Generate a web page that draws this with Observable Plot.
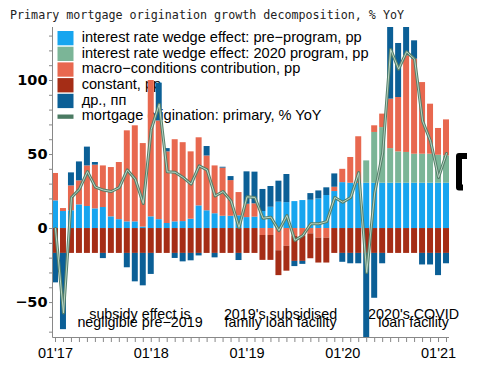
<!DOCTYPE html>
<html>
<head>
<meta charset="utf-8">
<script src="https://cdn.jsdelivr.net/npm/d3@7"></script>
<script src="https://cdn.jsdelivr.net/npm/@observablehq/plot@0.6"></script>
<style>
  body { margin: 0; background: #fff; }
</style>
</head>
<body>
<script>
// ---------- data ----------
const titleText = "Primary mortgage origination growth decomposition, % YoY";

const months = [
  "2017-01","2017-02","2017-03","2017-04","2017-05","2017-06","2017-07","2017-08","2017-09","2017-10","2017-11","2017-12",
  "2018-01","2018-02","2018-03","2018-04","2018-05","2018-06","2018-07","2018-08","2018-09","2018-10","2018-11","2018-12",
  "2019-01","2019-02","2019-03","2019-04","2019-05","2019-06","2019-07","2019-08","2019-09","2019-10","2019-11","2019-12",
  "2020-01","2020-02","2020-03","2020-04","2020-05","2020-06","2020-07","2020-08","2020-09","2020-10","2020-11","2020-12",
  "2021-01","2021-02"
];

const seriesNames = [
  "interest rate wedge effect: pre\u2212program, pp",
  "interest rate wedge effect: 2020 program, pp",
  "macro\u2212conditions contribution, pp",
  "constant, pp",
  "\u0434\u0440., \u043f\u043f"
];
const lineName = "mortgage origination: primary, % YoY";

const preProgram = [18.7, 11.5, 12, 16, 14.9, 13.3, 14.2, 7.9, 6, 4.5, 4.5, 1,
  7.9, 6, 3.4, 4.5, 4.7, 6.3, 15.3, 12, 10, 8.3, 8.3, 8.6,
  7.4, 7.7, 11.5, 14.4, 17.8, 17.5, 18.2, 18.9, 19.1, 20, 22.3, 25,
  31, 30.6, 30.6, 30.6, 30.6, 30.6, 30.6, 30.6, 30.6, 30.6, 30.6, 30.6, 30.6, 30.6];

const program2020 = [0, 0, 0, 0, 0, 0, 0, 0, 0, 0, 0, 0,
  0, 0, 0, 0, 0, 0, 0, 0, 0, 0, 0, 0,
  0, 0, 0, 0, 0, 0, 0, 0, 0, 0, 0, 0,
  0, 0, 0, 15.1, 34.3, 37.6, 23.4, 21.2, 20.8, 19.6, 19.6, 19.6, 18.9, 18.5];

const macro = [18.5, 2, 16.8, 16.2, 27.4, 29.5, 28.1, 33.3, 38.6, 61.5, 64.9, 56.4,
  92.1, 66.7, 48.4, 55.5, 53.3, 45.5, 46, 37, 32.3, 32.5, 24.1, 15.7,
  9, 9, -4.7, -4.7, -15, -12, -5.4, -5.4, -3.6, -6.5, -6.5, 2.9,
  9, 17.4, 31.4, 0, 4.5, 9.1, 33.4, 36.7, 65.3, 64.2, 48.4, 33.8, 18.1, 24.3];

const constant = [-16.8, -16.8, -16.8, -16.8, -16.8, -16.8, -16.8, -16.8, -16.8, -16.8, -16.8, -16.8,
  -16.8, -16.8, -16.8, -16.8, -16.8, -16.8, -16.8, -16.8, -16.8, -16.8, -16.8, -16.8,
  -16.8, -16.8, -16.8, -16.8, -16.8, -16.8, -16.8, -16.8, -16.8, -16.8, -16.8, -16.8,
  -16.8, -16.8, -16.8, -16.8, -16.8, -16.8, -16.8, -16.8, -16.8, -16.8, -16.8, -16.8, -16.8, -16.8];

const other = [-19.9, -51.5, 8.8, 12.8, 12.7, 1.8, -3.5, 0, 0, -9.7, -19.2, -21.9,
  -14.2, 25.5, 2.2, -3.4, -5.7, -5, -1.7, 6.4, -3, 0.6, 2.7, -4.8,
  21.9, 21.4, 14.9, 14, 14.2, 19, -3.5, -2, 4.5, 5.4, 5.2, 9,
  -6, -7, -7, -60, -30.3, -7, 53, 36.5, 21, 12.4, -7.8, -7.8, -15, -7];

const yoy = [0, -57, 21, 26.6, 38.5, 28, 26, 25, 27.7, 39.6, 33.3, 16.9,
  67, 84, 38.3, 38, 34.5, 30, 42.3, 39.6, 22, 25, 18.7, 0.7,
  21.4, 21, 7, 7.7, -1.4, 8.8, -8, -4.7, 3.2, 3.2, 4.7, 21,
  17.8, 21, 37.8, -29.7, 24, 51, 121, 107.7, 119.4, 114.4, 72.7, 59, 34.5, 50.7];

const yTicks = [-70, -60, -50, -40, -30, -20, -10, 0, 10, 20, 30, 40, 50, 60, 70, 80, 90, 100, 110, 120, 130];
const yDomain = [-73.6, 135.8];

const annotations = [
  {month: "2017-12", text: "subsidy effect is\nnegligible pre\u22122019"},
  {month: "2019-05", text: "2019's subsidised\nfamily loan facility"},
  {month: "2020-10", text: "2020's COVID\nloan facility"}
];

const bracketRange = [48.6, 27.4];

// ---------- styles ----------
const colors = ["#17a5ef", "#7bb597", "#e8684f", "#a52d16", "#0b5f96"];
const lineDark = "#557f69";
const lineLight = "#b9d5c5";
const sansFont = "'Liberation Sans', Arial, sans-serif";

// ---------- tables ----------
const seriesValues = [preProgram, program2020, macro, constant, other];
const rows = [];
seriesValues.forEach((vals, s) => {
  vals.forEach((v, i) => rows.push({month: months[i], series: seriesNames[s], value: v}));
});
const lineRows = yoy.map((v, i) => ({month: months[i], value: v}));

// ---------- custom decorations ----------
function titleMark(index, scales, values, dims) {
  const g = d3.create("svg:g");
  g.append("text")
    .attr("x", 10).attr("y", 19)
    .attr("text-anchor", "start")
    .attr("font-family", "'DejaVu Sans Mono', monospace")
    .attr("font-size", 11.7)
    .attr("fill", "#222")
    .text(titleText);
  return g.node();
}

function legendMark(index, scales, values, dims) {
  const g = d3.create("svg:g")
    .attr("font-family", sansFont)
    .attr("font-size", 14.6)
    .attr("text-anchor", "start")
    .attr("fill", "#000");
  const x0 = dims.marginLeft + 5.5;
  const names = [...seriesNames, lineName];
  names.forEach((name, k) => {
    const top = dims.marginTop + 4 + 15.7 * k;
    if (k < seriesNames.length) {
      g.append("rect").attr("x", x0).attr("y", top).attr("width", 16).attr("height", 14.3).attr("fill", colors[k]);
    } else {
      g.append("rect").attr("x", x0).attr("y", top + 5).attr("width", 16).attr("height", 4.3).attr("fill", "#4a7a62");
    }
    g.append("text").attr("x", x0 + 24.2).attr("y", top + 10.8).text(name);
  });
  return g.node();
}

function axisLines(index, scales, values, dims) {
  const g = d3.create("svg:g").attr("stroke", "#888").attr("stroke-width", 1);
  const left = dims.marginLeft + 0.5;
  const bottom = dims.height - dims.marginBottom + 0.5;
  g.append("line").attr("x1", left).attr("x2", left).attr("y1", dims.marginTop).attr("y2", bottom);
  g.append("line").attr("x1", left).attr("x2", dims.width - dims.marginRight).attr("y1", bottom).attr("y2", bottom);
  return g.node();
}

function bracketMark(index, scales, values, dims) {
  const g = d3.create("svg:g");
  const y1 = scales.y(bracketRange[0]);
  const y2 = scales.y(bracketRange[1]);
  const xr = dims.width - dims.marginRight;
  g.append("path")
    .attr("d", `M${xr + 18},${y1}H${xr + 10}V${y2}H${xr + 14}`)
    .attr("fill", "none").attr("stroke", "#000").attr("stroke-width", 6)
    .attr("stroke-linejoin", "round");
  return g.node();
}

const annotDx = [-3.3, 1.6, -1];

// ---------- chart ----------
const chart = Plot.plot({
  width: 486,
  height: 368,
  marginLeft: 52,
  marginRight: 37,
  marginTop: 27,
  marginBottom: 31,
  style: {background: "white", fontFamily: sansFont, overflow: "visible"},
  x: {type: "band", domain: months, paddingInner: 0.25, paddingOuter: 0, round: false, axis: null},
  y: {domain: yDomain, axis: null},
  color: {domain: seriesNames, range: colors},
  marks: [
    titleMark,
    legendMark,
    ...annotations.map((a, k) => Plot.text([a], {
      x: "month", text: "text", frameAnchor: "bottom", dy: -10.7, dx: annotDx[k],
      lineAnchor: "bottom", lineHeight: 0.56, fontSize: 14.3, fill: "#000", textAnchor: "middle"
    })),
    Plot.barY(rows, {x: "month", y: "value", fill: "series", clip: true}),
    Plot.line(lineRows, {x: "month", y: "value", stroke: lineDark, strokeWidth: 3, strokeLinejoin: "round", clip: true}),
    Plot.line(lineRows, {x: "month", y: "value", stroke: lineLight, strokeWidth: 1, strokeLinejoin: "round", clip: true}),
    Plot.axisX({
      label: null, tickSize: 5, tickPadding: 5.7, stroke: "#888", fill: "#000",
      fontSize: 14.5,
      tickFormat: m => m.endsWith("-01") ? "01'" + m.slice(2, 4) : ""
    }),
    Plot.axisY({
      label: null, ticks: yTicks, tickSize: 3, tickPadding: 2, stroke: "#888", fill: "#000",
      fontSize: 14.5, fontWeight: "bold", fontFamily: "'DejaVu Sans', Verdana, sans-serif",
      tickFormat: d => d % 50 === 0 ? d3.format("d")(d) : ""
    }),
    axisLines,
    bracketMark
  ]
});
document.body.append(chart);
</script>
</body>
</html>
